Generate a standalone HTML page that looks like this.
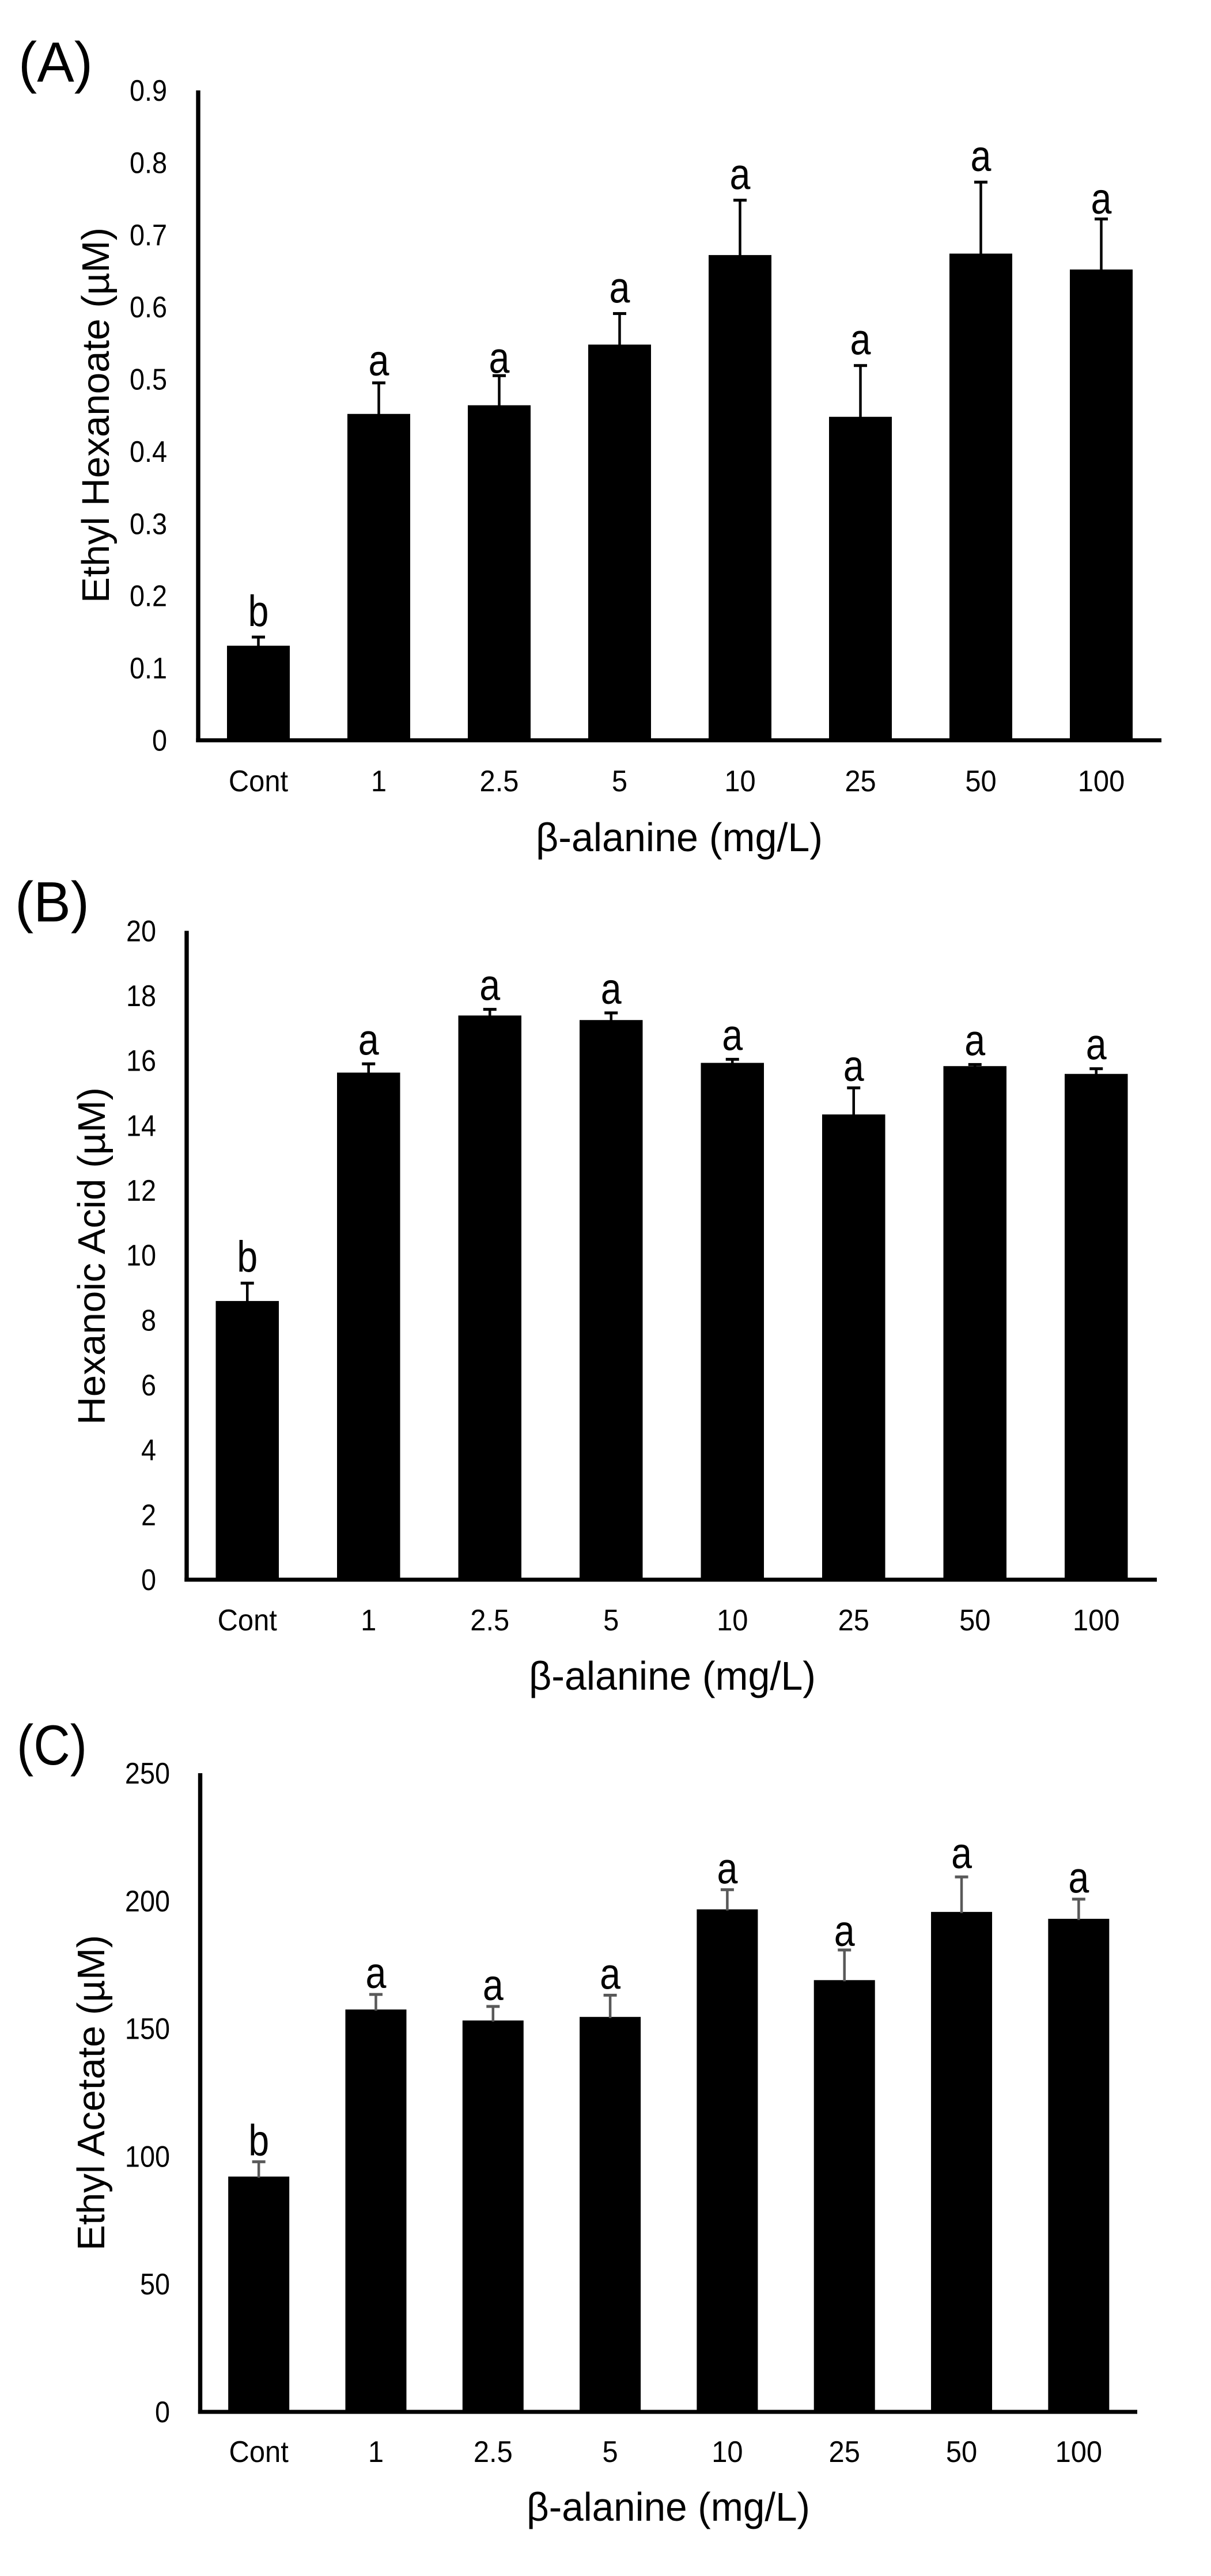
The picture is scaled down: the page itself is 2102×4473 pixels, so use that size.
<!DOCTYPE html>
<html lang="en">
<head>
<meta charset="utf-8">
<title>Volatile compounds versus beta-alanine dose</title>
<style>
html,body{margin:0;padding:0;background:#fff;width:2102px;height:4473px;overflow:hidden}
svg{display:block}
text{font-family:"Liberation Sans",sans-serif;fill:#000}
</style>
</head>
<body>
<svg id="figure" xmlns="http://www.w3.org/2000/svg" width="2102" height="4473" viewBox="0 0 2102 4473">
  <rect width="2102" height="4473" fill="#fff"/>

  <g id="panel-a">
    <text x="32" y="142" font-size="98" textLength="129" lengthAdjust="spacingAndGlyphs">(A)</text>
    <text transform="translate(189,1047) rotate(-90)" font-size="67" textLength="652" lengthAdjust="spacingAndGlyphs">Ethyl Hexanoate (µM)</text>
    <text x="930" y="1478" font-size="70" textLength="498" lengthAdjust="spacingAndGlyphs">β-alanine (mg/L)</text>
  </g>

  <g id="panel-b">
    <text x="26" y="1600" font-size="98" textLength="129" lengthAdjust="spacingAndGlyphs">(B)</text>
    <text transform="translate(182,2474) rotate(-90)" font-size="67" textLength="586" lengthAdjust="spacingAndGlyphs">Hexanoic Acid (µM)</text>
    <text x="918" y="2934" font-size="70" textLength="498" lengthAdjust="spacingAndGlyphs">β-alanine (mg/L)</text>
  </g>

  <g id="panel-c">
    <text x="29" y="3064" font-size="98" textLength="122" lengthAdjust="spacingAndGlyphs">(C)</text>
    <text transform="translate(181,3908) rotate(-90)" font-size="67" textLength="548" lengthAdjust="spacingAndGlyphs">Ethyl Acetate (µM)</text>
    <text x="914" y="4377" font-size="70" textLength="492" lengthAdjust="spacingAndGlyphs">β-alanine (mg/L)</text>
  </g>
</svg>

<script>
const categories = ['Cont', '1', '2.5', '5', '10', '25', '50', '100'];

const yTicksA = ['0', '0.1', '0.2', '0.3', '0.4', '0.5', '0.6', '0.7', '0.8', '0.9'];
const valuesA = [0.131, 0.452, 0.464, 0.548, 0.672, 0.448, 0.674, 0.652];
const errorsA = [0.012, 0.043, 0.041, 0.043, 0.076, 0.071, 0.099, 0.070];
const lettersA = ['b', 'a', 'a', 'a', 'a', 'a', 'a', 'a'];

const yTicksB = ['0', '2', '4', '6', '8', '10', '12', '14', '16', '18', '20'];
const valuesB = [8.59, 15.63, 17.39, 17.25, 15.93, 14.34, 15.83, 15.59];
const errorsB = [0.55, 0.27, 0.19, 0.22, 0.11, 0.82, 0.05, 0.16];
const lettersB = ['b', 'a', 'a', 'a', 'a', 'a', 'a', 'a'];

const yTicksC = ['0', '50', '100', '150', '200', '250'];
const valuesC = [92.1, 157.5, 153.2, 154.6, 196.7, 169.0, 195.7, 193.0];
const errorsC = [5.8, 5.9, 5.5, 8.5, 7.7, 11.8, 13.7, 7.7];
const lettersC = ['b', 'a', 'a', 'a', 'a', 'a', 'a', 'a'];

const SVG_NS = 'http://www.w3.org/2000/svg';

function make(parent, tag, props) {
  const el = document.createElementNS(SVG_NS, tag);
  Object.keys(props).forEach(function (key) {
    el.setAttribute(key, props[key]);
  });
  parent.appendChild(el);
  return el;
}

function drawPanel(layout, ticks, values, errors, letters) {
  const root = document.getElementById(layout.id);
  const yMax = parseFloat(ticks[ticks.length - 1]);
  const band = (layout.right - layout.axisX) / categories.length;

  function yPos(v) {
    return layout.baseY - (v / yMax) * (layout.baseY - layout.topY);
  }
  function xCenter(i) {
    return layout.axisX + band * (i + 0.5);
  }

  ticks.forEach(function (t) {
    const label = make(root, 'text', {
      transform: 'translate(' + layout.tickRight + ',' + (yPos(parseFloat(t)) + 18) + ') scale(0.9,1)',
      'font-size': 52,
      'text-anchor': 'end'
    });
    label.textContent = t;
    
    
  });

  categories.forEach(function (c, i) {
    const cx = xCenter(i);
    const top = yPos(values[i]);
    const capY = yPos(values[i] + errors[i]);

    const bar = make(root, 'rect', {
      x: cx - layout.barWidth / 2,
      y: top,
      width: layout.barWidth,
      height: layout.baseY - top,
      fill: '#000'
    });
    
    

    const stem = make(root, 'rect', {
      x: cx - 2.25,
      y: capY,
      width: 4.5,
      height: top - capY + 2,
      fill: layout.errorColor
    });
    
    

    const cap = make(root, 'rect', {
      x: cx - 11.5,
      y: capY - 2.5,
      width: 23,
      height: 5,
      fill: layout.errorColor
    });
    
    

    const gap = layout.gapExceptions[i] !== undefined ? layout.gapExceptions[i] : layout.letterGap;
    const letter = make(root, 'text', {
      transform: 'translate(' + cx + ',' + (capY - gap) + ') scale(0.85,1)',
      'font-size': 76,
      'text-anchor': 'middle'
    });
    letter.textContent = letters[i];
    
    

    const tick = make(root, 'text', {
      transform: 'translate(' + cx + ',' + layout.xLabelY + ') scale(0.94,1)',
      'font-size': 52,
      'text-anchor': 'middle'
    });
    tick.textContent = c;
    
    
  });

  const yAxis = make(root, 'rect', {
    x: layout.axisX - 3.7,
    y: layout.topY,
    width: 7.4,
    height: layout.baseY - layout.topY + 3.5,
    fill: '#000'
  });
  
  

  const xAxis = make(root, 'rect', {
    x: layout.axisX - 3.7,
    y: layout.baseY - 3.5,
    width: layout.right - layout.axisX + 3.7,
    height: 7,
    fill: '#000'
  });
  
  
}

drawPanel(
  { id: 'panel-a', axisX: 344, right: 2016, topY: 157, baseY: 1285.5, barWidth: 109, tickRight: 290, xLabelY: 1374, errorColor: '#000', letterGap: 19, gapExceptions: { 1: 13, 2: 5, 7: 9 } },
  yTicksA, valuesA, errorsA, lettersA
);
drawPanel(
  { id: 'panel-b', axisX: 324, right: 2008, topY: 1616.3, baseY: 2743, barWidth: 109.5, tickRight: 271, xLabelY: 2831, errorColor: '#000', letterGap: 16, gapExceptions: { 0: 20, 5: 12 } },
  yTicksB, valuesB, errorsB, lettersB
);
drawPanel(
  { id: 'panel-c', axisX: 347.5, right: 1974, topY: 3079, baseY: 4188, barWidth: 106, tickRight: 295, xLabelY: 4275, errorColor: '#595959', letterGap: 11, gapExceptions: { 5: 7, 6: 15 } },
  yTicksC, valuesC, errorsC, lettersC
);
</script>
</body>
</html>
